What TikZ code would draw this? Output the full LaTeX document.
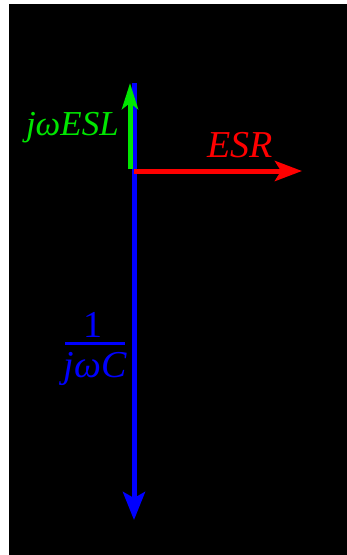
\documentclass[tikz,border=0pt]{standalone}
\usepackage{fontspec}
\setmainfont{Liberation Serif}
\usetikzlibrary{arrows.meta}
\definecolor{phgreen}{RGB}{0,230,0}
\definecolor{phred}{RGB}{255,0,0}
\definecolor{phblue}{RGB}{0,0,255}
\begin{document}
\begin{tikzpicture}[x=1pt,y=-1pt,
  phasor/.style={line width=5pt,-{Stealth[length=28pt,width=22pt,inset=6pt]}},
  lbl/.style={inner sep=0pt,font=\fontsize{38}{42}\selectfont\itshape}]
  % canvas: white strip on the left and top, black drawing area
  \useasboundingbox (0,0) rectangle (347,555);
  \fill[white] (0,0) rectangle (347,555);
  \fill[black] (9,4) rectangle (347,555);

  % phasor end points
  \coordinate (o) at (134,171);
  \coordinate (cbot) at (134,520);
  \coordinate (ctop) at (134,83);
  \coordinate (lo) at (130,169);
  \coordinate (ltop) at (130,83);
  \coordinate (rend) at (302,171);

  % capacitive reactance (down), drawn full height
  \draw[phasor,phblue] (ctop) -- (cbot);
  % inductive reactance (up)
  \draw[phasor,phgreen,-{Stealth[length=26pt,width=16pt,inset=6pt]}] (lo) -- (ltop);
  % resistance (right)
  \draw[phasor,phred,-{Stealth[length=27pt,width=20pt,inset=6pt]}] (o) -- (rend);

  % labels
  \node[lbl,text=phred,anchor=base west] (esr) at (207,157) {ESR};
  \node[lbl,text=phgreen,font=\fontsize{35}{40}\selectfont\itshape,anchor=base east] (esl) at (119,135) {jωESL};
  \node[lbl,text=phblue,font=\fontsize{38}{42}\selectfont,anchor=base] (num) at (93,337) {1};
  \node[lbl,text=phblue,anchor=base] (den) at (95,377) {jωC};
  \draw[phblue,line width=3pt] (65,343.5) -- (125,343.5);
\end{tikzpicture}
\end{document}
